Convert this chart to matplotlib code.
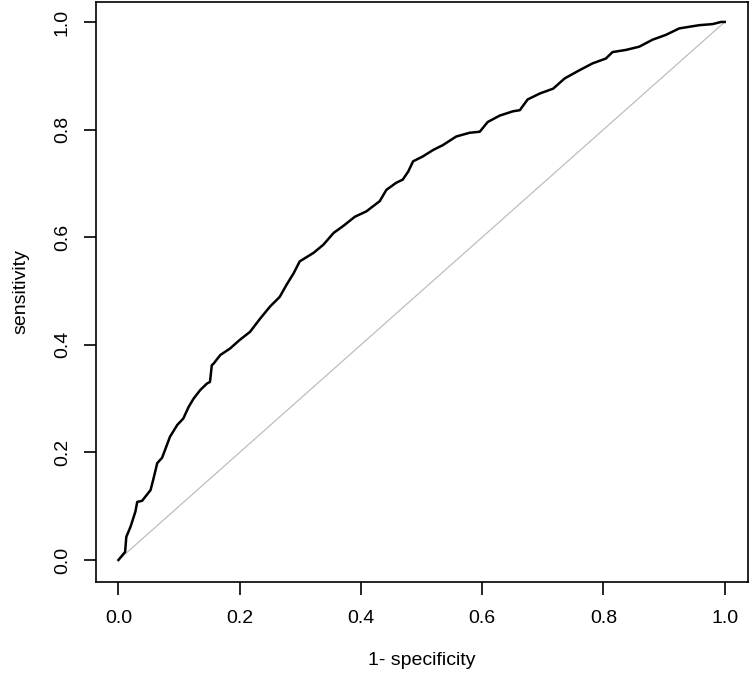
import matplotlib
matplotlib.use("Agg")
import matplotlib.pyplot as plt

# ROC curve points (1 - specificity, sensitivity)
fpr = [0.0, 0.011, 0.013, 0.020, 0.028, 0.031, 0.039, 0.053, 0.058, 0.064,
       0.072, 0.080, 0.085, 0.097, 0.107, 0.116, 0.124, 0.135, 0.146, 0.151,
       0.154, 0.157, 0.168, 0.184, 0.200, 0.217, 0.234, 0.250, 0.266, 0.277,
       0.289, 0.299, 0.322, 0.338, 0.355, 0.371, 0.390, 0.409, 0.431, 0.442,
       0.458, 0.469, 0.478, 0.486, 0.502, 0.519, 0.535, 0.557, 0.579, 0.596,
       0.609, 0.629, 0.651, 0.662, 0.675, 0.695, 0.717, 0.736, 0.760, 0.782,
       0.804, 0.815, 0.837, 0.859, 0.881, 0.903, 0.925, 0.958, 0.980, 0.994,
       1.0]
tpr = [0.0, 0.015, 0.043, 0.062, 0.090, 0.108, 0.110, 0.130, 0.152, 0.180,
       0.190, 0.214, 0.229, 0.251, 0.263, 0.285, 0.300, 0.316, 0.328, 0.331,
       0.362, 0.365, 0.381, 0.393, 0.409, 0.424, 0.449, 0.471, 0.489, 0.511,
       0.533, 0.555, 0.571, 0.586, 0.608, 0.621, 0.638, 0.648, 0.667, 0.688,
       0.701, 0.707, 0.722, 0.741, 0.750, 0.762, 0.771, 0.787, 0.794, 0.796,
       0.814, 0.826, 0.834, 0.836, 0.856, 0.867, 0.876, 0.895, 0.910, 0.923,
       0.932, 0.944, 0.948, 0.954, 0.967, 0.976, 0.988, 0.994, 0.996, 1.0,
       1.0]

ref_line = [0.0, 1.0]
ticks = [0.0, 0.2, 0.4, 0.6, 0.8, 1.0]
tick_labels = ["0.0", "0.2", "0.4", "0.6", "0.8", "1.0"]

plt.rcParams['font.family'] = ['Liberation Sans', 'DejaVu Sans']

fig = plt.figure(figsize=(7.5, 6.8), dpi=100)
ax = fig.add_axes([0.128, 0.144, 0.869, 0.853])

# diagonale de reference puis la courbe ROC
ax.plot(ref_line, ref_line, color="#bebebe", linewidth=0.9)
ax.plot(fpr, tpr, color="black", linewidth=1.8)

ax.set_xlim(-0.037, 1.038)
ax.set_ylim(-0.041, 1.037)
ax.set_xticks(ticks)
ax.set_xticklabels(tick_labels)
ax.set_yticks(ticks)
ax.set_yticklabels(tick_labels, rotation=90, va="center")

ax.tick_params(axis="both", length=9, width=1.2, labelsize=14)
ax.tick_params(axis="x", pad=11)
ax.tick_params(axis="y", pad=9)
for s in ax.spines.values():
    s.set_linewidth(1.2)

ax.set_xlabel("1- specificity", fontsize=14, labelpad=18)
ax.set_ylabel("sensitivity", fontsize=14, labelpad=18)

fig.savefig("out.png", dpi=100)
